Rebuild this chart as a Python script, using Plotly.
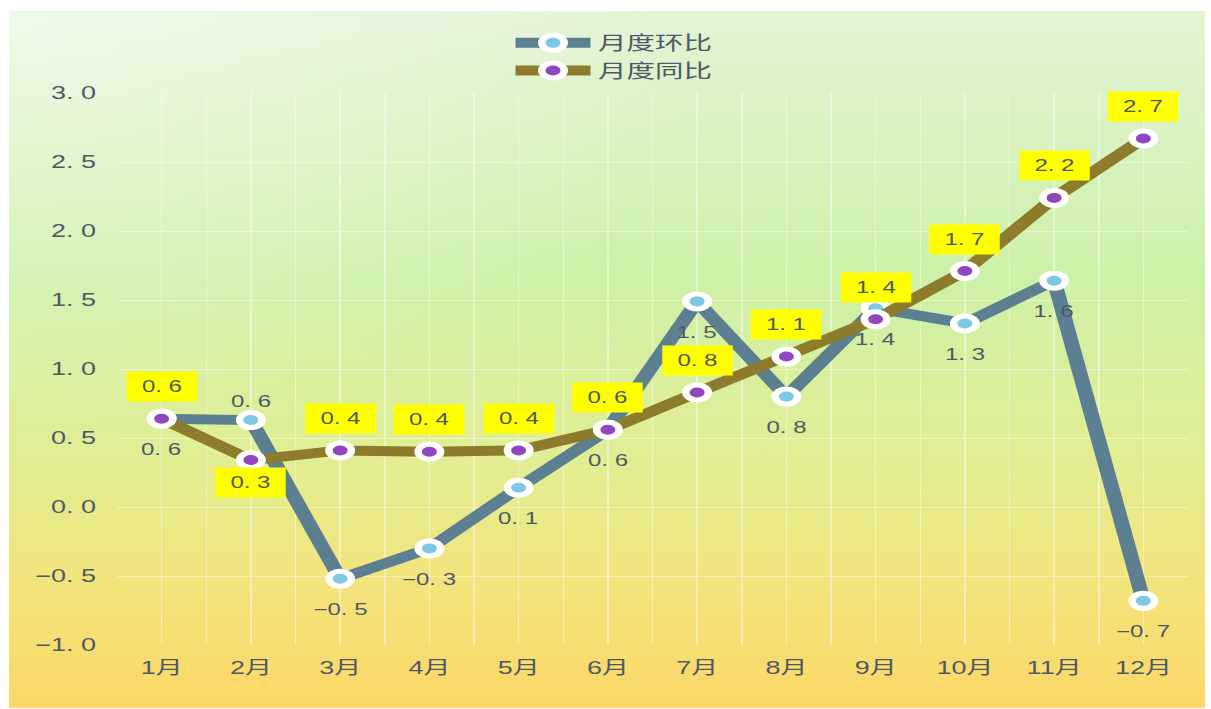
import base64
import plotly.graph_objects as go

months = ["1月", "2月", "3月", "4月", "5月", "6月", "7月", "8月", "9月", "10月", "11月", "12月"]
mom = [0.64, 0.63, -0.52, -0.30, 0.14, 0.56, 1.49, 0.80, 1.44, 1.33, 1.64, -0.68]
yoy = [0.64, 0.34, 0.41, 0.40, 0.41, 0.56, 0.83, 1.09, 1.36, 1.71, 2.24, 2.67]
mom_label_above = [False, True] + [False] * 10
yoy_label_below = [False, True] + [False] * 10
y_ticks = [-1.0, -0.5, 0.0, 0.5, 1.0, 1.5, 2.0, 2.5, 3.0]
series_names = ["月度环比", "月度同比"]


def fmt(v):
    s = f"{abs(v):.1f}".replace(".", ". ")
    return ("−" if v < 0 else "") + s


# The reference is rendered horizontally stretched; reproduce with a CSS scaleX.
S = 1.5
SW, SH = 1211, 709                 # screen size
W = SW / S                          # figure width before stretch
H = SH
L, Rr, T, B = 117 / S, (SW - 1188) / S, 93, 64
pw, ph = W - L - Rr, H - T - B

svg = """<svg xmlns='http://www.w3.org/2000/svg' width='1196' height='697' preserveAspectRatio='none'>
<defs>
<linearGradient id='g' x1='0' y1='0' x2='0' y2='1'>
<stop offset='0' stop-color='#e3f4d6'/>
<stop offset='0.38' stop-color='#cdf1a8'/>
<stop offset='0.62' stop-color='#e0ee96'/>
<stop offset='0.82' stop-color='#f2e47c'/>
<stop offset='1' stop-color='#fdd768'/>
</linearGradient>
<radialGradient id='r' cx='0' cy='0' r='0.6'>
<stop offset='0' stop-color='#ffffff' stop-opacity='0.45'/>
<stop offset='1' stop-color='#ffffff' stop-opacity='0'/>
</radialGradient>
</defs>
<rect width='1196' height='697' fill='url(#g)'/>
<rect width='1196' height='697' fill='url(#r)'/>
</svg>"""
src = "data:image/svg+xml;base64," + base64.b64encode(svg.encode()).decode()

xs = list(range(len(months)))
fig = go.Figure()

fig.add_trace(go.Scatter(
    x=xs, y=mom, name=series_names[0], mode="lines+markers",
    line=dict(color="#5d7f92", width=10),
    marker=dict(size=15, color="#7cc8e6", line=dict(color="white", width=5)),
    hoverinfo="skip",
))
fig.add_trace(go.Scatter(
    x=xs, y=yoy, name=series_names[1], mode="lines+markers",
    line=dict(color="#8d7c2b", width=10),
    marker=dict(size=15, color="#9046be", line=dict(color="white", width=5)),
    hoverinfo="skip",
))

lab_font = dict(size=16, color="#4d5a66", family="Liberation Sans, Noto Sans CJK SC")
annotations = []
for i, v in enumerate(mom):
    annotations.append(dict(
        x=i, y=v, xref="x", yref="y", text=fmt(v), showarrow=False,
        yshift=19 if mom_label_above[i] else -31, font=lab_font,
    ))
for i, v in enumerate(yoy):
    annotations.append(dict(
        x=i, y=v, xref="x", yref="y", text=fmt(v), showarrow=False,
        yshift=-22 if yoy_label_below[i] else 32,
        bgcolor="#ffff00", borderpad=6, width=34, align="center", font=lab_font,
    ))

grid = "rgba(255,255,255,0.42)"
tick_font = dict(size=18, color="#4d5a66", family="Liberation Sans, Noto Sans CJK SC")
fig.update_layout(
    width=W, height=H,
    margin=dict(l=L, r=Rr, t=T, b=B, pad=0),
    paper_bgcolor="white", plot_bgcolor="rgba(0,0,0,0)",
    images=[dict(source=src, xref="paper", yref="paper",
                 x=(9 / S - L) / pw, y=(H - B - 11) / ph,
                 sizex=(1196 / S) / pw, sizey=697 / ph,
                 xanchor="left", yanchor="top", sizing="stretch", layer="below")],
    annotations=annotations,
    showlegend=True,
    legend=dict(
        x=(508 / S - L) / pw, y=(H - B - 24) / ph, xanchor="left", yanchor="top",
        bgcolor="rgba(0,0,0,0)", orientation="v", tracegroupgap=0,
        font=dict(size=19, color="#4d5a66", family="Noto Sans CJK SC"),
        itemsizing="trace", itemwidth=50,
    ),
    font=dict(family="Liberation Sans, Noto Sans CJK SC", color="#4d5a66"),
)
fig.update_xaxes(
    range=[-0.5, len(months) - 0.5], tickvals=xs, ticktext=months,
    showgrid=True, gridcolor=grid, gridwidth=1,
    minor=dict(tick0=-0.5, dtick=1, showgrid=True, gridcolor=grid, gridwidth=1),
    zeroline=False, showline=False, ticks="", ticklabelstandoff=10,
    tickfont=tick_font, fixedrange=True,
)
fig.update_yaxes(
    range=[-1, 3], tickvals=y_ticks, ticktext=[fmt(v) for v in y_ticks],
    showgrid=True, gridcolor=grid, gridwidth=1,
    zeroline=False, showline=False, ticks="", ticklabelstandoff=13,
    tickfont=tick_font, fixedrange=True,
)

post = (
    "document.body.style.margin='0';"
    "document.body.style.overflow='hidden';"
    "var d=document.getElementById('{plot_id}');"
    "d.style.transformOrigin='0 0';"
    "d.style.transform='scaleX(%s)';" % S
)
fig.write_html("out.html", post_script=post, config={"displayModeBar": False})
